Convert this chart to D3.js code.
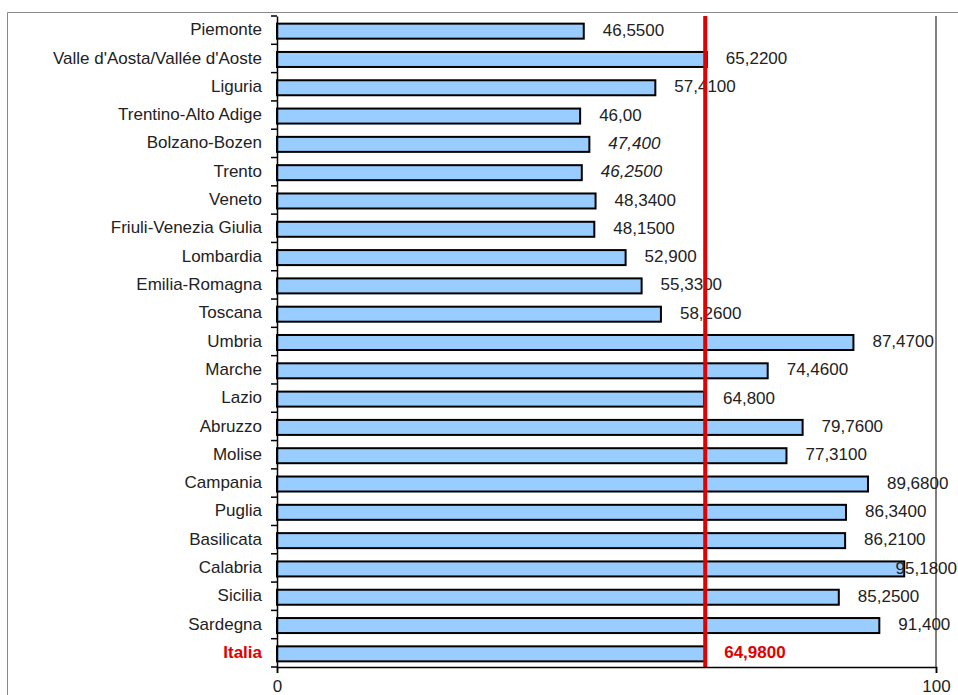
<!DOCTYPE html>
<html><head><meta charset="utf-8">
<script src="https://cdn.jsdelivr.net/npm/d3@7"></script>
<style>body{margin:0;background:#fff}svg{display:block}text{font-family:"Liberation Sans",Arial,sans-serif}</style>
</head><body>
<script>
const categories = ["Piemonte","Valle d'Aosta/Vallée d'Aoste","Liguria","Trentino-Alto Adige","Bolzano-Bozen","Trento","Veneto","Friuli-Venezia Giulia","Lombardia","Emilia-Romagna","Toscana","Umbria","Marche","Lazio","Abruzzo","Molise","Campania","Puglia","Basilicata","Calabria","Sicilia","Sardegna","Italia"];
const values = [46.55,65.22,57.41,46.00,47.40,46.25,48.34,48.15,52.90,55.33,58.26,87.47,74.46,64.80,79.76,77.31,89.68,86.34,86.21,95.18,85.25,91.40,64.98];
const valueLabels = ["46,5500","65,2200","57,4100","46,00","47,400","46,2500","48,3400","48,1500","52,900","55,3300","58,2600","87,4700","74,4600","64,800","79,7600","77,3100","89,6800","86,3400","86,2100","95,1800","85,2500","91,400","64,9800"];
const italicLabels = ["Bolzano-Bozen","Trento"];
const referenceValue = 64.98;
const xTicks = [0,100];

const W=958,H=695,FS=17;
const svg=d3.select("body").append("svg").attr("width",W).attr("height",H);
const L=277,R=936,T=16,B=667;
const x=d3.scaleLinear().domain([0,100]).range([L,R]);
const y=d3.scaleBand().domain(categories).range([T,B]).paddingInner(0.47).paddingOuter(0.235);
const yb=d3.scaleBand().domain(categories).range([T,B]);

// outer frame
svg.append("line").attr("x1",7.5).attr("x2",W).attr("y1",12.5).attr("y2",12.5).attr("stroke","#8a8a8a");
svg.append("line").attr("x1",7.5).attr("x2",7.5).attr("y1",12.5).attr("y2",H).attr("stroke","#8a8a8a");

// gridline at 100
svg.append("line").attr("x1",x(100)).attr("x2",x(100)).attr("y1",T).attr("y2",B).attr("stroke","#000").attr("stroke-width",1);

const isItalia=d=>d==="Italia";
svg.append("g").selectAll("rect").data(categories).join("rect")
  .attr("x",x(0)).attr("y",d=>y(d)+1).attr("width",(d,i)=>x(values[i])-x(0)).attr("height",y.bandwidth())
  .attr("fill","#99CCFF").attr("stroke","#000").attr("stroke-width",2);

// value labels
const vl=svg.append("g").selectAll("text").data(categories).join("text")
  .attr("x",(d,i)=>x(values[i])+19).attr("y",d=>yb(d)+yb.bandwidth()/2+1).attr("dy","0.27em")
  .attr("font-size",FS)
  .attr("font-style",d=>italicLabels.includes(d)?"italic":"normal")
  .attr("font-weight",d=>isItalia(d)?"bold":"normal")
  .attr("fill",d=>isItalia(d)?"#e00000":"#222")
  .text((d,i)=>valueLabels[i]);
vl.each(function(){
  const w=this.getComputedTextLength();
  const cx=+this.getAttribute("x");
  if(cx+w>W-1) this.setAttribute("x",W-1-w);
});

// red reference line
svg.append("line").attr("x1",x(referenceValue)).attr("x2",x(referenceValue)).attr("y1",T).attr("y2",B)
  .attr("stroke","#e00000").attr("stroke-width",4);

// y axis
const yAxis=d3.axisLeft(yb).tickSize(0).tickPadding(15).tickFormat(d=>d);
const gy=svg.append("g").attr("transform",`translate(${L},0)`).call(yAxis);
gy.select(".domain").attr("stroke","#000").attr("stroke-width",1.5);
gy.selectAll(".tick text").attr("font-size",FS).attr("fill",d=>isItalia(d)?"#e00000":"#222")
  .attr("font-weight",d=>isItalia(d)?"bold":"normal").attr("dy","0.3em");
// boundary ticks
const bounds=d3.range(categories.length+1).map(i=>T+i*yb.step());
svg.append("g").selectAll("line").data(bounds).join("line")
  .attr("x1",L-6).attr("x2",L).attr("y1",d=>d).attr("y2",d=>d).attr("stroke","#000").attr("stroke-width",1.5);

// x axis
const xAxis=d3.axisBottom(x).tickValues(xTicks).tickSize(6).tickPadding(7).tickFormat(d3.format("d"));
const gx=svg.append("g").attr("transform",`translate(0,${B})`).call(xAxis);
gx.select(".domain").attr("stroke","#000").attr("stroke-width",1.5);
gx.selectAll(".tick line").attr("stroke","#000").attr("stroke-width",1.5);
gx.selectAll(".tick text").attr("font-size",FS).attr("fill","#222");
</script>
</body></html>
